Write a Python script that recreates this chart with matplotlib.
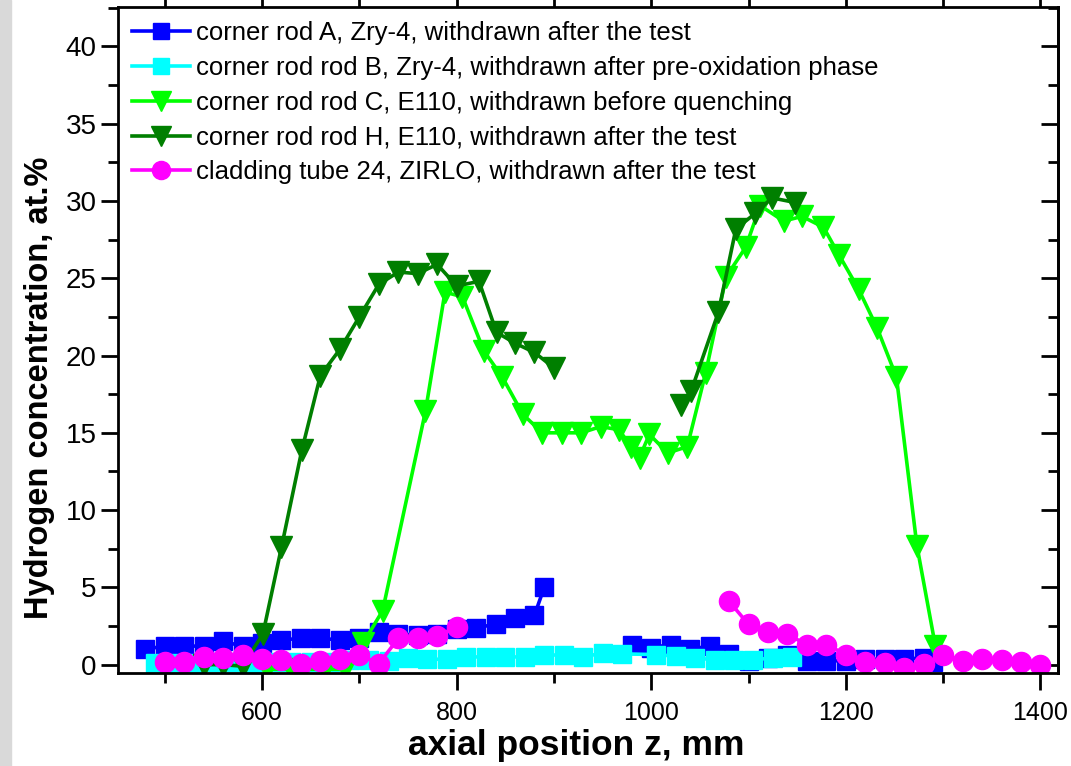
import numpy as np
import matplotlib
matplotlib.use("Agg")
import matplotlib.pyplot as plt
from matplotlib import font_manager
from matplotlib.ticker import MultipleLocator
from matplotlib.patches import Rectangle

plt.rcParams['font.family'] = ['Liberation Sans', 'DejaVu Sans']

nan = np.nan

# corner rod A, Zry-4 (blue squares)
rodA_z = [480, 500, 520, 540, 560, 580, 600, 620, 640, 660, 680, 700, 720, 740, 760,
          780, 800, 820, 840, 860, 880, 890, nan,
          980, 1000, 1020, 1040, 1060, 1080, 1100, 1120, 1140, 1160, 1180, 1200, 1220,
          1240, 1260, 1280, 1290]
rodA_h = [1.0, 1.2, 1.2, 1.2, 1.5, 1.2, 1.4, 1.6, 1.7, 1.7, 1.6, 1.7, 2.1, 2.0, 1.9,
          2.0, 2.3, 2.4, 2.6, 3.0, 3.2, 5.0, nan,
          1.25, 1.1, 1.3, 1.0, 1.2, 0.7, 0.25, 0.45, 0.6, 0.25, 0.25, 0.25, 0.35,
          0.35, 0.35, 0.45, 0.2]

# corner rod B, Zry-4 (cyan squares)
rodB_z = [490, 510, 530, 550, 570, 590, 610, 630, 650, 670, 690, 710, 730, 750, 770,
          790, 810, 830, 850, 870, 890, 910, 930, 950, 970,
          1005, 1025, 1045, 1065, 1085, 1105, 1125, 1145]
rodB_h = [0.1, 0.1, 0.1, 0.15, 0.15, 0.1, 0.15, 0.15, 0.2, 0.2, 0.3, 0.3, 0.25, 0.45, 0.35,
          0.35, 0.5, 0.5, 0.5, 0.5, 0.65, 0.6, 0.5, 0.75, 0.7,
          0.65, 0.55, 0.45, 0.3, 0.3, 0.3, 0.45, 0.5]

# corner rod C, E110 (light green triangles)
rodC_z = [605, 630, 665, 685, 704, 724, 768, 788, 806, 828, 847, 868, 888, 908, 928,
          948, 967, 979, 988, 998, 1017, 1037, 1056, 1077, 1097, 1112, 1136, 1155,
          1177, 1193, 1213, 1232, 1252, 1273, 1292]
rodC_h = [-0.3, -0.3, -0.3, -0.3, 1.4, 3.5, 16.4, 24.1, 23.8, 20.3, 18.6, 16.2, 15.0, 15.0, 15.0,
          15.4, 15.2, 14.1, 13.4, 14.9, 13.7, 14.1, 18.9, 25.1, 27.0, 29.7, 28.7, 29.0,
          28.3, 26.5, 24.3, 21.8, 18.6, 7.7, 1.2]

# corner rod H, E110 (dark green triangles)
rodH_z = [540, 560, 580, 601, 620, 641, 660, 680, 700, 720, 740, 760, 780, 800, 823,
          841, 860, 880, 900, nan,
          1031, 1041, 1069, 1087, 1107, 1124, 1148]
rodH_h = [0.0, 0.0, -0.1, 2.0, 7.6, 13.9, 18.7, 20.4, 22.5, 24.6, 25.4, 25.3, 25.9, 24.5, 24.8,
          21.5, 20.8, 20.2, 19.2, nan,
          16.8, 17.7, 22.8, 28.2, 29.2, 30.2, 29.9]

# cladding tube 24, ZIRLO (magenta circles)
tube24_z = [500, 520, 540, 560, 580, 600, 620, 640, 660, 680, 700, 720, 740, 760, 780, 800, nan,
            1080, 1100, 1120, 1140, 1160, 1180, 1200, 1220, 1240, 1260, 1280, 1300, 1320,
            1340, 1360, 1380, 1400]
tube24_h = [0.2, 0.2, 0.5, 0.45, 0.65, 0.35, 0.3, 0.05, 0.25, 0.35, 0.65, 0.05, 1.7, 1.75, 1.85, 2.45, nan,
            4.1, 2.6, 2.1, 2.0, 1.25, 1.3, 0.65, 0.15, 0.1, -0.2, 0.05, 0.6, 0.25,
            0.35, 0.3, 0.2, 0.0]

labels = ["corner rod A, Zry-4, withdrawn after the test",
          "corner rod rod B, Zry-4, withdrawn after pre-oxidation phase",
          "corner rod rod C, E110, withdrawn before quenching",
          "corner rod rod H, E110, withdrawn after the test",
          "cladding tube 24, ZIRLO, withdrawn after the test"]

# narrow face for the x tick labels if there is one
names = {f.name for f in font_manager.fontManager.ttflist}
narrow = 'Liberation Sans Narrow' if 'Liberation Sans Narrow' in names else 'Liberation Sans'

fig = plt.figure(figsize=(10.71, 7.66), dpi=100)
fig.patches.append(Rectangle((0, 0), 11 / 1071, 1, transform=fig.transFigure,
                             color='#d9d9d9', zorder=0))
ax = fig.add_axes([118 / 1071, 1 - 673 / 766, 940 / 1071, 666 / 766])

lw = 2.6
ax.plot(rodA_z, rodA_h, '-s', color='#0000ff', lw=lw, ms=13, mec='#0000ff', label=labels[0])
ax.plot(rodB_z, rodB_h, '-s', color='#00ffff', lw=lw, ms=13, mec='#00ffff', label=labels[1])
ax.plot(rodC_z, rodC_h, '-v', color='#00ff00', lw=lw, ms=16, mec='#00ff00', label=labels[2])
ax.plot(rodH_z, rodH_h, '-v', color='#007f00', lw=lw, ms=16, mec='#007f00', label=labels[3])
ax.plot(tube24_z, tube24_h, '-o', color='#ff00ff', lw=lw, ms=14.5, mec='#ff00ff', label=labels[4])

ax.set_xlim(452, 1418)
ax.set_ylim(-0.54, 42.55)
ax.xaxis.set_major_locator(MultipleLocator(200))
ax.xaxis.set_minor_locator(MultipleLocator(100))
ax.yaxis.set_major_locator(MultipleLocator(5))
ax.yaxis.set_minor_locator(MultipleLocator(2.5))

for s in ax.spines.values():
    s.set_linewidth(2)
ax.tick_params(which='both', width=2, direction='out', top=True, right=False)
ax.tick_params(which='major', length=12)
ax.tick_params(which='minor', length=7)
ax.tick_params(axis='x', labelsize=18, pad=8)
ax.tick_params(axis='y', labelsize=20, pad=3.5)
for lab in ax.get_xticklabels():
    lab.set_family(narrow)

# right side ticks point inwards
sec = ax.secondary_yaxis('right')
sec.yaxis.set_major_locator(MultipleLocator(5))
sec.yaxis.set_minor_locator(MultipleLocator(2.5))
sec.spines['right'].set_linewidth(2)
sec.tick_params(which='both', direction='in', width=2, labelright=False)
sec.tick_params(which='major', length=12)
sec.tick_params(which='minor', length=7)

ax.set_xlabel("axial position z, mm", fontsize=25.5, fontweight='bold')
ax.xaxis.set_label_coords(0.487, -0.084)
ax.set_ylabel("Hydrogen concentration, at.%", fontsize=23.5, fontweight='bold')
ax.yaxis.set_label_coords(-0.067, 0.428)

ax.legend(loc='upper left', bbox_to_anchor=(0, 1), frameon=False, fontsize=18.5,
          handlelength=2.25, handletextpad=0.25, labelspacing=0.42,
          borderaxespad=0.15, borderpad=0.4, markerscale=0.9)

fig.savefig("out.png", dpi=100)
